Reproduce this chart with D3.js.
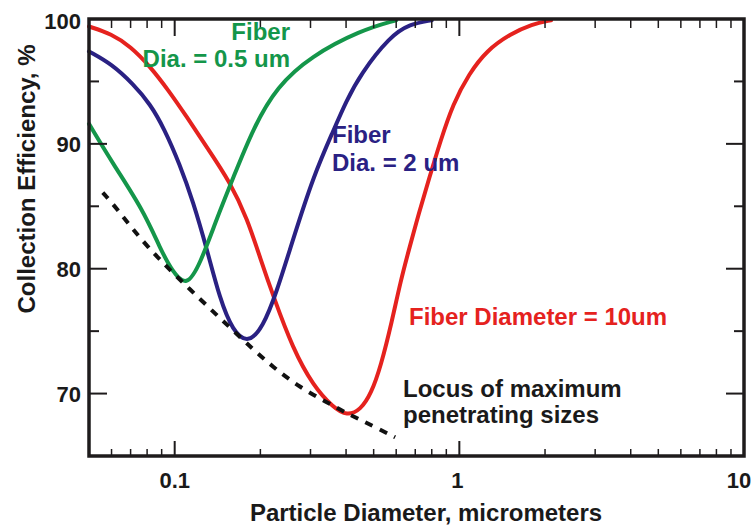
<!DOCTYPE html>
<html>
<head>
<meta charset="utf-8">
<script src="https://cdn.jsdelivr.net/npm/d3@7"></script>
<style>
  html, body { margin: 0; padding: 0; background: #fff; }
  svg { display: block; }
  text { font-family: "Liberation Sans", Arial, Helvetica, sans-serif; font-weight: bold; }
</style>
</head>
<body>
<svg id="chart" width="753" height="525"></svg>
<script>
// Collection efficiency (%) versus particle diameter (µm) for three fiber diameters
const fiber05 = [
  [0.05, 91.6], [0.0607, 88.4], [0.0775, 84.7], [0.089, 81.6], [0.098, 79.8],
  [0.11, 78.5], [0.123, 80.4], [0.141, 84.1], [0.16, 87.2], [0.189, 91.3],
  [0.229, 94.6], [0.30, 97.0], [0.45, 99.1], [0.6, 99.9]
];
const fiber2 = [
  [0.05, 97.4], [0.06, 96.4], [0.0714, 94.8], [0.082, 93.2], [0.092, 91.2],
  [0.104, 88.4], [0.116, 85.4], [0.13, 81.5], [0.144, 77.6], [0.16, 75.0],
  [0.181, 74.0], [0.204, 75.3], [0.228, 78.1], [0.26, 82.3], [0.307, 87.4],
  [0.36, 91.0], [0.40, 93.4], [0.45, 95.6], [0.57, 98.6], [0.67, 99.6], [0.8, 99.9]
];
const fiber10 = [
  [0.05, 99.4], [0.06, 98.8], [0.07, 97.8], [0.082, 96.2], [0.095, 94.3],
  [0.11, 92.2], [0.13, 89.7], [0.156, 87.0], [0.18, 84.0], [0.2, 80.8],
  [0.222, 77.8], [0.26, 73.6], [0.307, 70.6], [0.36, 68.9], [0.403, 68.2],
  [0.45, 68.7], [0.49, 70.0], [0.53, 72.2], [0.58, 75.8], [0.62, 78.9],
  [0.67, 81.8], [0.72, 84.4], [0.78, 87.1], [0.86, 90.3], [0.95, 93.2],
  [1.08, 95.6], [1.25, 97.5], [1.51, 98.8], [1.8, 99.6], [2.1, 99.9]
];
// Locus of the most penetrating particle size
const locus = [
  [0.0559, 86.1], [0.0617, 85.0], [0.08, 81.7], [0.11, 78.6], [0.181, 73.9],
  [0.222, 72.1], [0.275, 70.5], [0.343, 69.3], [0.403, 68.4], [0.45, 67.9],
  [0.595, 66.5]
];

const xMajorTicks = [0.1, 1, 10];
const xTickLabels = ["0.1", "1", "10"];
const xMinorTicks = [0.06, 0.07, 0.08, 0.09, 0.2, 0.3, 0.4, 0.5, 0.6, 0.7, 0.8, 0.9,
                     2, 3, 4, 5, 6, 7, 8, 9];
const yMajorTicks = [70, 80, 90, 100];
const yMinorTicks = [75, 85, 95];

const svg = d3.select("#chart");
const W = 753, H = 525;
const m = { left: 89, right: 744, top: 19, bottom: 456 };

svg.append("rect").attr("width", W).attr("height", H).attr("fill", "#fff");

const x = d3.scaleLog().domain([0.05, 10]).range([m.left, m.right]);
const y = d3.scaleLinear().domain([65, 100]).range([m.bottom, m.top]);

const frameColor = "#1e1b1c";

// Smooth curves through the measured points
const line = d3.line()
  .x(d => x(d[0]))
  .y(d => y(d[1]))
  .curve(d3.curveBasis);

const curves = [
  { data: fiber10, color: "#e5221e" },
  { data: fiber2, color: "#2a2183" },
  { data: fiber05, color: "#14964a" }
];
curves.forEach(c => {
  svg.append("path")
    .attr("d", line(c.data))
    .attr("fill", "none")
    .attr("stroke", c.color)
    .attr("stroke-width", 4)
    .attr("stroke-linecap", "round")
    .attr("stroke-linejoin", "round");
});

svg.append("path")
  .attr("d", line(locus))
  .attr("fill", "none")
  .attr("stroke", "#111")
  .attr("stroke-width", 4)
  .attr("stroke-dasharray", "8,8");

// Axes with inward-pointing ticks on all four sides
const g = svg.append("g");
function tickLines(sel, vals, fn, len, width) {
  sel.selectAll(null).data(vals).enter().append("line")
    .each(function (v) {
      const p = fn(v, len);
      d3.select(this).attr("x1", p[0]).attr("y1", p[1]).attr("x2", p[2]).attr("y2", p[3]);
    })
    .attr("stroke", frameColor)
    .attr("stroke-width", width);
}
// bottom
tickLines(g, xMinorTicks, (v, l) => [x(v), m.bottom, x(v), m.bottom - l], 7, 1.5);
tickLines(g, xMajorTicks.slice(0, 2), (v, l) => [x(v), m.bottom, x(v), m.bottom - l], 15, 2);
// top
tickLines(g, xMinorTicks, (v, l) => [x(v), m.top, x(v), m.top + l], 9, 1.5);
tickLines(g, xMajorTicks.slice(0, 2), (v, l) => [x(v), m.top, x(v), m.top + l], 17, 2);
// left
tickLines(g, yMajorTicks, (v, l) => [m.left, y(v), m.left + l, y(v)], 18, 2);
tickLines(g, yMinorTicks, (v, l) => [m.left, y(v), m.left + l, y(v)], 10, 2);
// right
tickLines(g, yMajorTicks, (v, l) => [m.right, y(v), m.right - l, y(v)], 18, 2);
tickLines(g, yMinorTicks, (v, l) => [m.right, y(v), m.right - l, y(v)], 10, 2);

svg.append("rect")
  .attr("x", m.left).attr("y", m.top)
  .attr("width", m.right - m.left).attr("height", m.bottom - m.top)
  .attr("fill", "none")
  .attr("stroke", frameColor)
  .attr("stroke-width", 3.5);

// Tick labels
const xLabelShift = [0, -2, -5];
svg.selectAll(".xtl").data(xMajorTicks).enter().append("text")
  .attr("class", "xtl")
  .attr("x", (d, i) => x(d) + xLabelShift[i])
  .attr("y", 488)
  .attr("text-anchor", "middle")
  .attr("font-size", 22)
  .attr("fill", "#1a1a1a")
  .text((d, i) => xTickLabels[i]);

svg.selectAll(".ytl").data(yMajorTicks).enter().append("text")
  .attr("class", "ytl")
  .attr("x", 81)
  .attr("y", d => y(d) + (d === 100 ? 10 : 8))
  .attr("text-anchor", "end")
  .attr("font-size", 22)
  .attr("fill", "#1a1a1a")
  .text(d => d);

// Axis titles
svg.append("text")
  .attr("x", 426).attr("y", 521)
  .attr("text-anchor", "middle")
  .attr("font-size", 24)
  .attr("fill", "#1a1a1a")
  .text("Particle Diameter, micrometers");

svg.append("text")
  .attr("transform", "translate(35,179) rotate(-90)")
  .attr("text-anchor", "middle")
  .attr("font-size", 24)
  .attr("fill", "#1a1a1a")
  .text("Collection Efficiency, %");

// Curve annotations
function label(lines, px, py, anchor, color, lh) {
  const t = svg.append("text")
    .attr("text-anchor", anchor)
    .attr("font-size", 24)
    .attr("fill", color);
  lines.forEach((s, i) => {
    t.append("tspan").attr("x", px).attr("y", py + i * lh).text(s);
  });
}
label(["Fiber", "Dia. = 0.5 um"], 290, 40, "end", "#14964a", 27);
label(["Fiber", "Dia. = 2 um"], 332, 143, "start", "#2a2183", 28);
label(["Fiber Diameter = 10um"], 409, 325, "start", "#e5221e", 0);
label(["Locus of maximum", "penetrating sizes"], 403, 397, "start", "#1a1a1a", 26);
</script>
</body>
</html>
